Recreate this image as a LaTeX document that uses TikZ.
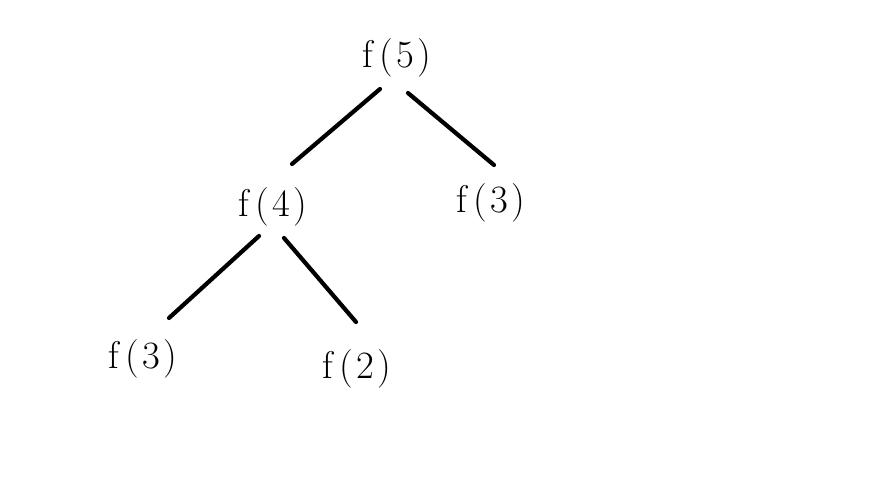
\documentclass[tikz,border=0pt]{standalone}
\usepackage{fontspec}
\usepackage{tikz}
\usetikzlibrary{positioning, calc}
\newfontfamily\calllabelfont{Latin Modern Roman}[LetterSpace=8]

\begin{document}
\begin{tikzpicture}[
    x=0.02cm, y=-0.02cm,
    call/.style={inner sep=0pt, font=\calllabelfont\fontsize{22}{26}\selectfont},
    edge/.style={line width=2.4pt, line cap=round},
]
    \useasboundingbox (0,0) rectangle (879,481);

    % Calls
    \node[call] (f5)  at (397,58)  {f\,(5)};
    \node[call] (f4)  at (273,207) {f\,(4)};
    \node[call] (f3a) at (491,203) {f\,(3)};
    \node[call] (f3b) at (143,359) {f\,(3)};
    \node[call] (f2)  at (357,369) {f\,(2)};

    % Line ends
    \coordinate (f5l) at (380,89);
    \coordinate (f5r) at (408,93);
    \coordinate (f4t) at (292,164);
    \coordinate (f3t) at (494,165);
    \coordinate (f4l) at (259,236);
    \coordinate (f4r) at (284,238);
    \coordinate (f3bt) at (169,318);
    \coordinate (f2t) at (356,322);

    \draw[edge] (f5l) -- (f4t);
    \draw[edge] (f5r) -- (f3t);
    \draw[edge] (f4l) -- (f3bt);
    \draw[edge] (f4r) -- (f2t);
\end{tikzpicture}
\end{document}
